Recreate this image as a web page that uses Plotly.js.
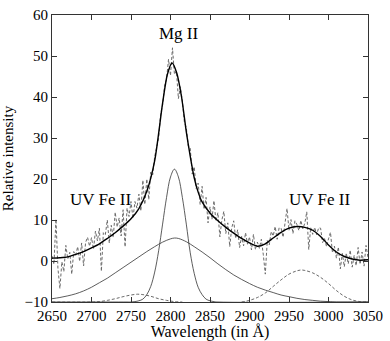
<!DOCTYPE html>
<html>
<head>
<meta charset="utf-8">
<script src="https://cdn.plot.ly/plotly-3.0.1.min.js"></script>
</head>
<body style="margin:0">
<div id="chart"></div>
<script>
// observed spectrum, sampled every 2.5 A starting at 2650 A
var obsStart = 2650;
var obsStep = 2.5;
var obsFlux = [
  1.2, -0.8, 10.2, -1.8, -6.7, -0.2, -2.6, 3.8, 0.5, 2.1,
  -3.2, 2.3, 1.4, 3.5, -0.1, 4.4, -1.2, 4.5, 5.8, 3.6,
  5.7, 2.9, 7.3, 4.9, 8.0, -2.5, 6.9, 6.4, 10.0, 4.35,
  8.7, 5.75, 11.9, 8.3, 10.5, 6.1, 12.5, 3.45, 12.9, 10.85,
  14.5, 10.4, 14.5, 12.9, 16.3, 12.2, 19.7, 13.8, 20.0, 15.0,
  21.7, 21.0, 25.5, 28.0, 30.0, 35.8, 38.0, 42.7, 44.3, 49.2,
  45.2, 52.0, 45.5, 46.3, 39.6, 42.5, 39.0, 34.0, 32.5, 28.0,
  27.5, 21.2, 23.0, 17.7, 19.0, 13.8, 18.2, 12.6, 15.5, 9.3,
  13.2, 10.2, 14.7, 9.7, 11.8, 5.9, 10.0, 12.1, 6.7, 9.3,
  3.5, 8.1, 9.8, 5.5, 7.6, 3.3, 6.0, 3.7, 6.9, 4.1,
  5.9, 2.7, 6.5, 2.8, 4.6, 3.1, 5.3, 1.5, -3.2, 5.0,
  3.9, 7.2, 6.1, 8.4, 5.3, 8.1, 8.0, 5.8, 9.5, 12.8,
  7.5, 10.1, 6.7, 9.8, 8.9, 7.4, 9.9, 7.85, 9.2, 12.0,
  2.8, 8.15, 6.5, 8.2, 6.4, 8.1, 8.0, 4.5, 5.5, 3.5,
  5.4, 7.0, 2.0, 3.6, 0.7, 3.4, -1.9, 1.85, -1.4, 1.95,
  -0.7, 2.65, -1.5, 1.4, -1.15, 3.3, -0.8, 2.2, -1.25, 3.8,
  0.8
];

// total fit
var fitWave = [2650, 2660, 2670, 2680, 2690, 2700, 2710, 2720, 2730, 2740,
  2750, 2760, 2770, 2780, 2790, 2796, 2802, 2808, 2814, 2820,
  2825, 2830, 2835, 2840, 2850, 2860, 2870, 2880, 2890, 2900,
  2910, 2920, 2930, 2940, 2950, 2960, 2970, 2980, 2990, 3000,
  3010, 3020, 3030, 3040, 3050];
var fitFlux = [0.7, 0.8, 1.0, 1.6, 2.3, 3.2, 4.2, 5.5, 6.9, 8.5,
  10.3, 12.8, 17.0, 24.5, 38.5, 45.5, 48.3, 45.8, 40.0, 31.5,
  25.5, 20.3, 16.8, 14.4, 11.7, 9.8, 8.2, 6.8, 5.5, 4.4,
  3.6, 4.2, 5.6, 7.0, 8.0, 8.4, 8.2, 7.5, 6.0, 3.9,
  2.2, 1.1, 0.5, 0.2, 0.3];

// broad Mg II component (shifted by -10)
var broadWave = [2650, 2660, 2670, 2680, 2690, 2700, 2710, 2720, 2730, 2740,
  2750, 2760, 2770, 2780, 2790, 2800, 2805, 2810, 2820, 2830,
  2840, 2850, 2860, 2870, 2880, 2890, 2900, 2910, 2920, 2930,
  2940, 2950, 2960, 2970, 2980, 2990, 3000, 3010, 3050];
var broadFlux = [-9.2, -8.9, -8.5, -8.0, -7.3, -6.4, -5.3, -4.2, -2.9, -1.6,
  -0.3, 1.0, 2.3, 3.5, 4.6, 5.4, 5.6, 5.5, 4.7, 3.5,
  2.2, 0.8, -0.7, -2.1, -3.4, -4.5, -5.5, -6.4, -7.1, -7.7,
  -8.3, -8.7, -9.1, -9.4, -9.6, -9.8, -9.9, -10.0, -10.0];

// narrow Mg II component
var narrowWave = [2650, 2745, 2750, 2755, 2760, 2765, 2770, 2775, 2780, 2785,
  2790, 2795, 2800, 2805, 2810, 2815, 2820, 2825, 2830, 2835,
  2840, 2845, 2850, 2855, 2860, 3050];
var narrowFlux = [-10.0, -10.0, -10.0, -9.9, -9.7, -9.3, -8.2, -6.2, -2.7, 2.5,
  9.0, 15.5, 20.5, 22.4, 20.5, 15.5, 9.0, 2.0, -3.0, -6.4,
  -8.2, -9.3, -9.7, -9.9, -10.0, -10.0];

// UV Fe II components
var fe1Wave = [2650, 2700, 2710, 2720, 2730, 2740, 2750, 2758, 2765, 2775,
  2785, 2795, 2805, 2815];
var fe1Flux = [-10.0, -10.0, -9.9, -9.6, -9.2, -8.7, -8.3, -8.1, -8.2, -8.6,
  -9.2, -9.6, -9.9, -10.0];
var fe2Wave = [2890, 2900, 2910, 2920, 2930, 2940, 2950, 2960, 2965, 2970,
  2980, 2990, 3000, 3010, 3020, 3030, 3040, 3050];
var fe2Flux = [-10.0, -9.6, -8.9, -7.8, -6.2, -4.6, -3.2, -2.4, -2.2, -2.3,
  -2.9, -4.0, -5.5, -7.2, -8.6, -9.5, -9.9, -10.0];

var traces = [
  {
    y: obsFlux, x0: obsStart, dx: obsStep,
    type: 'scatter', mode: 'lines',
    line: {color: '#6a6a6a', width: 1, dash: '3px,2px'}
  },
  {
    x: broadWave, y: broadFlux, type: 'scatter', mode: 'lines',
    line: {color: '#333', width: 0.8, shape: 'spline'}
  },
  {
    x: narrowWave, y: narrowFlux, type: 'scatter', mode: 'lines',
    line: {color: '#333', width: 0.8, shape: 'spline'}
  },
  {
    x: fe1Wave, y: fe1Flux, type: 'scatter', mode: 'lines',
    line: {color: '#444', width: 0.8, dash: '3px,2px', shape: 'spline'}
  },
  {
    x: fe2Wave, y: fe2Flux, type: 'scatter', mode: 'lines',
    line: {color: '#444', width: 0.8, dash: '3px,2px', shape: 'spline'}
  },
  {
    x: fitWave, y: fitFlux, type: 'scatter', mode: 'lines',
    line: {color: 'black', width: 1.4, shape: 'spline', smoothing: 0.7}
  }
];

var layout = {
  width: 390,
  height: 341,
  margin: {l: 52, r: 22, t: 15, b: 39},
  showlegend: false,
  paper_bgcolor: 'white',
  plot_bgcolor: 'white',
  font: {family: 'Times New Roman', size: 15, color: 'black'},
  xaxis: {
    range: [2650, 3050],
    tickvals: [2650, 2700, 2750, 2800, 2850, 2900, 2950, 3000, 3050],
    ticks: 'inside', ticklen: 5, tickcolor: '#333',
    showline: true, linecolor: '#333', linewidth: 1, mirror: 'ticks',
    showgrid: false, zeroline: false,
    tickfont: {family: 'Times New Roman', size: 15, color: 'black'},
    title: {text: 'Wavelength (in Å)', font: {family: 'Times New Roman', size: 16, color: 'black'}, standoff: 3}
  },
  yaxis: {
    range: [-10, 60],
    tickvals: [-10, 0, 10, 20, 30, 40, 50, 60],
    ticks: 'inside', ticklen: 5, tickcolor: '#333',
    showline: true, linecolor: '#333', linewidth: 1, mirror: 'ticks',
    showgrid: false, zeroline: false,
    tickfont: {family: 'Times New Roman', size: 15, color: 'black'},
    title: {text: 'Relative intensity', font: {family: 'Times New Roman', size: 15, color: 'black'}, standoff: 8}
  },
  annotations: [
    {x: 2811, y: 55.5, text: 'Mg II', showarrow: false, font: {family: 'Times New Roman', size: 17, color: 'black'}},
    {x: 2712, y: 15, text: 'UV Fe II', showarrow: false, font: {family: 'Times New Roman', size: 17, color: 'black'}},
    {x: 2989, y: 15, text: 'UV Fe II', showarrow: false, font: {family: 'Times New Roman', size: 17, color: 'black'}}
  ]
};

Plotly.newPlot('chart', traces, layout, {displayModeBar: false});
</script>
</body>
</html>
